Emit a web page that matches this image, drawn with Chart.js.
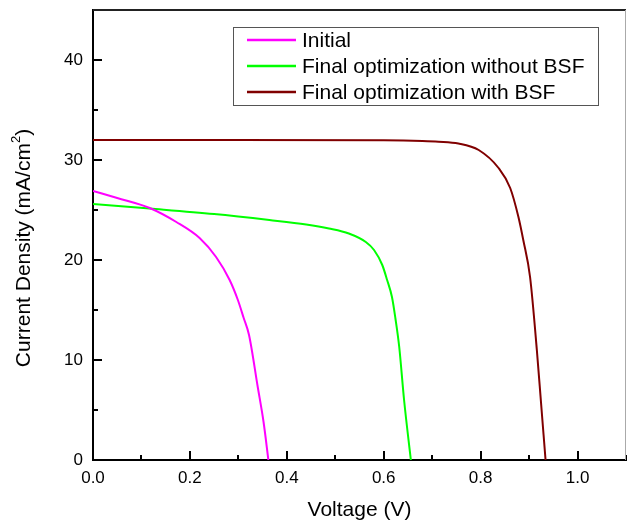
<!DOCTYPE html>
<html>
<head>
<meta charset="utf-8">
<script src="https://cdn.jsdelivr.net/npm/chart.js@4"></script>
<style>
  html, body { margin: 0; padding: 0; background: #fff; }
  #wrap { width: 627px; height: 521px; }
</style>
</head>
<body>
<div id="wrap"><canvas id="myChart"></canvas></div>
<script>
// J-V data
var seriesNames = ['Initial', 'Final optimization without BSF', 'Final optimization with BSF'];
var seriesColors = ['#ff00ff', '#00ff00', '#800000'];

var initialV = [0, 0.05, 0.117, 0.172, 0.22, 0.254, 0.282, 0.299, 0.311, 0.322, 0.34, 0.352, 0.362];
var initialJ = [26.9, 26.2, 25.2, 23.8, 22.2, 20.3, 18.0, 16.0, 14.2, 12.5, 7.3, 3.8, 0];

var noBsfV = [0, 0.117, 0.25, 0.364, 0.44, 0.487, 0.528, 0.563, 0.58, 0.597, 0.607, 0.617, 0.624, 0.632, 0.642, 0.656];
var noBsfJ = [25.6, 25.15, 24.6, 24.0, 23.55, 23.15, 22.65, 21.8, 21.0, 19.5, 18.0, 16.3, 14.2, 11.3, 6.0, 0];

var bsfV = [0, 0.3, 0.6, 0.68, 0.713, 0.754, 0.796, 0.837, 0.861, 0.878, 0.888, 0.902, 0.916, 0.925, 0.934];
var bsfJ = [32.0, 32.0, 31.97, 31.9, 31.83, 31.65, 31.0, 29.2, 27.2, 24.3, 22.0, 18.3, 11.0, 5.5, 0];

var xTickLabels = ['0.0', '0.2', '0.4', '0.6', '0.8', '1.0'];
var yTickLabels = ['0', '10', '20', '30', '40'];

function toPoints(xs, ys) {
    return xs.map(function (x, i) { return { x: x, y: ys[i] }; });
}

var allSeries = [toPoints(initialV, initialJ), toPoints(noBsfV, noBsfJ), toPoints(bsfV, bsfJ)];

var FONT = '"Liberation Sans", Arial, sans-serif';

// inward ticks, frame, y title and legend box
var extras = {
    id: 'extras',
    afterDraw: function (chart) {
        var ctx = chart.ctx;
        var xs = chart.scales.x, ys = chart.scales.y;
        var a = chart.chartArea;
        ctx.save();
        ctx.strokeStyle = '#000';
        ctx.lineWidth = 2;
        for (var i = 1; i <= 11; i++) {
            var px = Math.round(xs.getPixelForValue(i * 0.1));
            var len = (i % 2 === 0) ? 9 : 5;
            ctx.beginPath();
            ctx.moveTo(px, a.bottom);
            ctx.lineTo(px, a.bottom - len);
            ctx.stroke();
        }
        for (var j = 1; j <= 8; j++) {
            var py = Math.round(ys.getPixelForValue(j * 5));
            var l2 = (j % 2 === 0) ? 9 : 5;
            ctx.beginPath();
            ctx.moveTo(a.left, py);
            ctx.lineTo(a.left + l2, py);
            ctx.stroke();
        }
        // top and right frame
        ctx.lineWidth = 2;
        ctx.strokeStyle = '#222';
        ctx.beginPath();
        ctx.moveTo(a.left, a.top);
        ctx.lineTo(a.right, a.top);
        ctx.stroke();
        ctx.lineWidth = 1;
        ctx.strokeStyle = '#aaa';
        ctx.beginPath();
        ctx.moveTo(a.right - 0.5, a.top);
        ctx.lineTo(a.right - 0.5, a.bottom);
        ctx.stroke();

        // y axis title with superscript
        ctx.fillStyle = '#000';
        ctx.translate(24, 248);
        ctx.rotate(-Math.PI / 2);
        ctx.font = '21px ' + FONT;
        ctx.textBaseline = 'middle';
        var t1 = 'Current Density (mA/cm';
        var w1 = ctx.measureText(t1).width;
        ctx.font = '13px ' + FONT;
        var w2 = ctx.measureText('2').width;
        ctx.font = '21px ' + FONT;
        var w3 = ctx.measureText(')').width;
        var start = -(w1 + w2 + w3) / 2;
        ctx.textAlign = 'left';
        ctx.fillText(t1, start, 0);
        ctx.font = '13px ' + FONT;
        ctx.fillText('2', start + w1, -8);
        ctx.font = '21px ' + FONT;
        ctx.fillText(')', start + w1 + w2, 0);
        ctx.setTransform(1, 0, 0, 1, 0, 0);

        // legend
        ctx.strokeStyle = '#555';
        ctx.lineWidth = 1;
        ctx.strokeRect(233.5, 27.5, 365, 78);
        ctx.font = '21px ' + FONT;
        ctx.textBaseline = 'middle';
        ctx.textAlign = 'left';
        seriesNames.forEach(function (name, k) {
            var cy = 40 + k * 26;
            ctx.strokeStyle = seriesColors[k];
            ctx.lineWidth = 2.5;
            ctx.beginPath();
            ctx.moveTo(247, cy);
            ctx.lineTo(296, cy);
            ctx.stroke();
            ctx.fillStyle = '#000';
            ctx.fillText(name, 302, cy + 1);
        });
        ctx.restore();
    }
};

var ctx = document.getElementById('myChart').getContext('2d');
var myChart = new Chart(ctx, {
    type: 'scatter',
    data: {
        datasets: allSeries.map(function (pts, i) {
            return {
                label: seriesNames[i],
                data: pts,
                showLine: true,
                borderColor: seriesColors[i],
                backgroundColor: seriesColors[i],
                borderWidth: 2,
                pointRadius: 0,
                cubicInterpolationMode: 'monotone'
            };
        })
    },
    options: {
        responsive: true,
        maintainAspectRatio: false,
        animation: false,
        layout: { padding: { top: 10, right: 1, left: 0, bottom: 0 } },
        plugins: {
            legend: { display: false },
            tooltip: { enabled: false }
        },
        scales: {
            x: {
                type: 'linear',
                min: 0,
                max: 1.1,
                afterFit: function (s) { s.height = 61; s.paddingLeft = 0; s.paddingRight = 0; },
                afterBuildTicks: function (s) {
                    s.ticks = xTickLabels.map(function (t) { return { value: parseFloat(t) }; });
                },
                ticks: {
                    color: '#000',
                    padding: 8,
                    font: { family: FONT, size: 17 },
                    callback: function (v, i) { return xTickLabels[i]; }
                },
                grid: { display: true, drawOnChartArea: false, drawTicks: false },
                border: { color: '#000', width: 2 },
                title: {
                    display: true,
                    text: 'Voltage (V)',
                    color: '#000',
                    padding: { top: 0, bottom: 0 },
                    font: { family: FONT, size: 21, lineHeight: 1 }
                }
            },
            y: {
                type: 'linear',
                min: 0,
                max: 45,
                afterFit: function (s) { s.width = 93; s.paddingTop = 0; s.paddingBottom = 0; },
                afterBuildTicks: function (s) {
                    s.ticks = yTickLabels.map(function (t) { return { value: parseFloat(t) }; });
                },
                ticks: {
                    color: '#000',
                    padding: 10,
                    font: { family: FONT, size: 17 },
                    callback: function (v, i) { return yTickLabels[i]; }
                },
                grid: { display: true, drawOnChartArea: false, drawTicks: false },
                border: { color: '#000', width: 2 }
            }
        }
    },
    plugins: [extras]
});
</script>
</body>
</html>
